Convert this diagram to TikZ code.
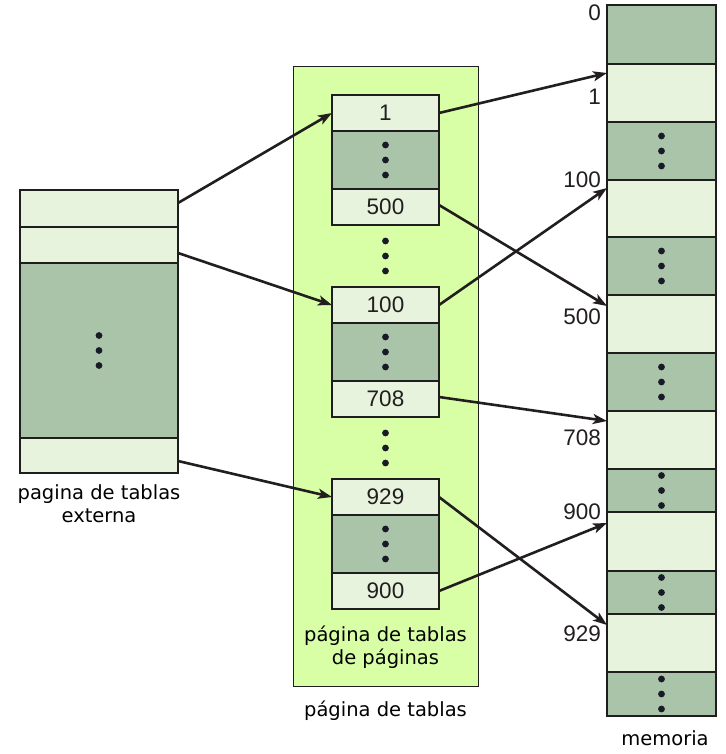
\documentclass[tikz,border=0pt]{standalone}
\usepackage{fontspec}
\setmainfont{DejaVu Sans}
\newfontfamily\numfont{Liberation Sans}
\usetikzlibrary{arrows.meta,calc}
\definecolor{lightc}{RGB}{231,243,220}
\definecolor{darkc}{RGB}{169,196,169}
\definecolor{bgc}{RGB}{216,255,166}
\definecolor{linec}{RGB}{30,30,30}
\definecolor{arrc}{RGB}{34,30,31}
\definecolor{dotc}{RGB}{25,25,40}
\newcommand\threedots[1]{\foreach \d in {-15,0,15} \fill[dotc] ([yshift=\d pt]#1.center) circle (3.4pt);}
\tikzset{
  rowbase/.style={draw=linec, line width=1.3pt, inner sep=0pt, outer sep=0pt, anchor=north west},
  lrow/.style={rowbase, fill=lightc},
  drow/.style={rowbase, fill=darkc},
  numtxt/.style={font=\numfont\fontsize{22.5}{26}\selectfont, text=arrc, inner sep=0pt},
  lbl/.style={font=\fontsize{19.5}{23.5}\selectfont, align=center, inner sep=0pt},
  arr/.style={draw=arrc, line width=2.6pt, -{Stealth[length=14pt,width=10pt,inset=3.5pt]}},
}
\begin{document}
\begin{tikzpicture}[x=1pt,y=-1pt]
\useasboundingbox (0,0) rectangle (725,754);
% left column
\begin{scope}[every node/.append style={minimum width=158pt}]
\node[lrow, minimum height=37pt] (L1) at (20,190) {};
\node[lrow, minimum height=36pt] (L2) at (20,227) {};
\node[drow, minimum height=175pt] (L3) at (20,263) {};
\node[lrow, minimum height=35pt] (L4) at (20,438) {};
\end{scope}
\threedots{L3}
\node[lbl] (Llab) at (99,503.5) {pagina de tablas\\externa};
% middle big rectangle
\node[draw=linec, line width=1.3pt, fill=bgc, inner sep=0pt, anchor=north west, minimum width=185pt, minimum height=620pt] (P) at (293,66) {};
\begin{scope}[every node/.append style={minimum width=107pt}]
\node[lrow, minimum height=36pt] (A1) at (332,95) {};
\node[drow, minimum height=58pt] (A2) at (332,131) {};
\node[lrow, minimum height=36pt] (A3) at (332,189) {};
\node[lrow, minimum height=36pt] (B1) at (332,287) {};
\node[drow, minimum height=58pt] (B2) at (332,323) {};
\node[lrow, minimum height=36pt] (B3) at (332,381) {};
\node[lrow, minimum height=36pt] (C1) at (332,479) {};
\node[drow, minimum height=58pt] (C2) at (332,515) {};
\node[lrow, minimum height=36pt] (C3) at (332,573) {};
\end{scope}
\node[numtxt] (tA1) at (A1.center) {1};
\node[numtxt] (tA3) at (A3.center) {500};
\node[numtxt] (tB1) at (B1.center) {100};
\node[numtxt] (tB3) at (B3.center) {708};
\node[numtxt] (tC1) at (C1.center) {929};
\node[numtxt] (tC3) at (C3.center) {900};
\threedots{A2}
\threedots{B2}
\threedots{C2}
\coordinate (gap1) at ($(A3.south)!0.5!(B1.north)$);
\coordinate (gap2) at ($(B3.south)!0.5!(C1.north)$);
\threedots{gap1}
\threedots{gap2}
\node[lbl] (Plab) at (385.5,647) {página de tablas\\de páginas};
\node[lbl] (Pbot) at (385.5,711) {página de tablas};
% memory column
\begin{scope}[every node/.append style={minimum width=109pt}]
\node[drow, minimum height=59pt] (M0) at (607,5) {};
\node[lrow, minimum height=58pt] (M1) at (607,64) {};
\node[drow, minimum height=58pt] (M2) at (607,122) {};
\node[lrow, minimum height=57pt] (M3) at (607,180) {};
\node[drow, minimum height=58pt] (M4) at (607,237) {};
\node[lrow, minimum height=58pt] (M5) at (607,295) {};
\node[drow, minimum height=58pt] (M6) at (607,353) {};
\node[lrow, minimum height=58pt] (M7) at (607,411) {};
\node[drow, minimum height=43pt] (M8) at (607,469) {};
\node[lrow, minimum height=59pt] (M9) at (607,512) {};
\node[drow, minimum height=43pt] (M10) at (607,571) {};
\node[lrow, minimum height=58pt] (M11) at (607,614) {};
\node[drow, minimum height=44pt] (M12) at (607,672) {};
\end{scope}
\threedots{M2}
\threedots{M4}
\threedots{M6}
\threedots{M8}
\threedots{M10}
\threedots{M12}
\node[numtxt, anchor=east] (n0) at (601,12.5) {0};
\node[numtxt, anchor=east] (n1) at (601,97) {1};
\node[numtxt, anchor=east] (n100) at (601,180) {100};
\node[numtxt, anchor=east] (n500) at (601,317) {500};
\node[numtxt, anchor=east] (n708) at (601,438) {708};
\node[numtxt, anchor=east] (n900) at (601,512) {900};
\node[numtxt, anchor=east] (n929) at (601,634) {929};
\node[lbl] (Mlab) at (665,738) {memoria};
% arrows
\draw[arr] ([yshift=5.5pt]L1.east) -- (A1.west);
\draw[arr] ([yshift=-8pt]L2.east) -- (B1.west);
\draw[arr] ([yshift=-5.5pt]L4.east) -- (C1.west);
\draw[arr] (A1.east) -- ([yshift=-9pt]M1.north west);
\draw[arr] ([yshift=2pt]A3.east) -- ([yshift=-11pt]M5.north west);
\draw[arr] (B1.east) -- ([yshift=-8pt]M3.north west);
\draw[arr] ([yshift=2pt]B3.east) -- ([yshift=-10pt]M7.north west);
\draw[arr] (C1.east) -- ([yshift=-11pt]M11.north west);
\draw[arr] (C3.east) -- ([yshift=-11pt]M9.north west);
\end{tikzpicture}
\end{document}
